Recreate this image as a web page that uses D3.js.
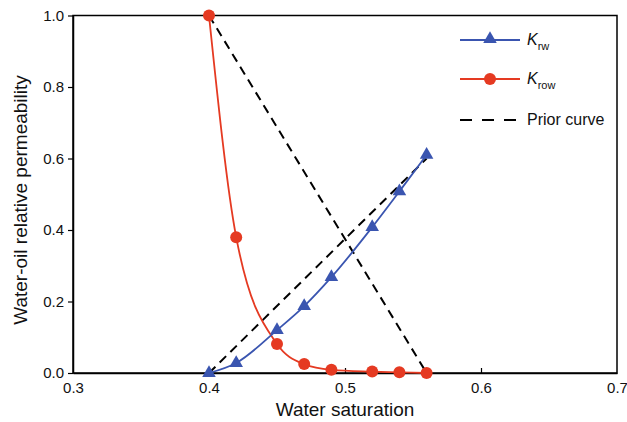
<!DOCTYPE html>
<html><head><meta charset="utf-8">
<script src="https://cdn.jsdelivr.net/npm/d3@7"></script>
<style>body{margin:0;background:#fff}svg{display:block;font-family:"Liberation Sans",Arial,sans-serif}</style>
</head><body><svg id="c" width="627" height="422"></svg>
<script>
const sw = [0.40, 0.42, 0.45, 0.47, 0.49, 0.52, 0.54, 0.56];
const krw = [0, 0.028, 0.12, 0.187, 0.268, 0.408, 0.508, 0.61];
const krow = [1.0, 0.38, 0.081, 0.025, 0.009, 0.004, 0.002, 0.0];
const priorKrwX = [0.40, 0.56], priorKrwY = [0, 0.6];
const priorKrowX = [0.40, 0.56], priorKrowY = [1.0, 0];
const xTicks = [0.3, 0.4, 0.5, 0.6, 0.7];
const yTicks = [0.0, 0.2, 0.4, 0.6, 0.8, 1.0];

const svg = d3.select("#c");
const L = 73, R = 617, T = 15.5, B = 373;
const x = d3.scaleLinear().domain([0.3, 0.7]).range([L, R]);
const y = d3.scaleLinear().domain([0, 1]).range([B, T]);
const blue = "#3a55b0", red = "#e53a22";

// frame
svg.append("rect").attr("x", L).attr("y", T).attr("width", R - L).attr("height", B - T)
  .attr("fill", "none").attr("stroke", "#000").attr("stroke-width", 1.5);

const xa = svg.append("g").attr("transform", `translate(0,${B})`)
  .call(d3.axisBottom(x).tickValues(xTicks).tickFormat(d3.format(".1f")).tickSizeInner(-5).tickSizeOuter(0).tickPadding(9));
const ya = svg.append("g").attr("transform", `translate(${L},0)`)
  .call(d3.axisLeft(y).tickValues(yTicks).tickFormat(d3.format(".1f")).tickSizeInner(5).tickSizeOuter(0).tickPadding(4));
[xa, ya].forEach(g => {
  g.select(".domain").attr("stroke", "#000").attr("stroke-width", 1.5);
  g.selectAll(".tick line").attr("stroke", "#000").attr("stroke-width", 1.2);
  g.selectAll(".tick text").attr("font-size", 15).attr("fill", "#111").attr("font-family", "Liberation Sans, Arial, sans-serif");
});
xa.selectAll(".tick").filter(d => d === 0.3 || d === 0.7).select("line").remove();

svg.append("text").attr("x", 345).attr("y", 416).attr("text-anchor", "middle")
  .attr("font-size", 19).attr("fill", "#111").text("Water saturation");
svg.append("text").attr("transform", `translate(27,200) rotate(-90)`).attr("text-anchor", "middle")
  .attr("font-size", 19).attr("fill", "#111").text("Water-oil relative permeability");

const dash = "9,6";
const line = d3.line().x(d => x(d[0])).y(d => y(d[1]));
svg.append("path").datum(priorKrwX.map((v, i) => [v, priorKrwY[i]])).attr("d", line)
  .attr("fill", "none").attr("stroke", "#000").attr("stroke-width", 2).attr("stroke-dasharray", dash);
svg.append("path").datum(priorKrowX.map((v, i) => [v, priorKrowY[i]])).attr("d", line)
  .attr("fill", "none").attr("stroke", "#000").attr("stroke-width", 2).attr("stroke-dasharray", dash);

const smooth = d3.line().x(d => x(d[0])).y(d => y(d[1])).curve(d3.curveMonotoneX);
svg.append("path").datum(sw.map((v, i) => [v, krow[i]])).attr("d", smooth)
  .attr("fill", "none").attr("stroke", red).attr("stroke-width", 1.8);
svg.append("path").datum(sw.map((v, i) => [v, krw[i]])).attr("d", smooth)
  .attr("fill", "none").attr("stroke", blue).attr("stroke-width", 1.8);

const tri = d3.symbol().type(d3.symbolTriangle).size(80);
svg.selectAll(".tri").data(sw.map((v, i) => [v, krw[i]])).join("path")
  .attr("transform", d => `translate(${x(d[0])},${y(d[1])})`).attr("d", tri).attr("fill", blue);
svg.selectAll(".cir").data(sw.map((v, i) => [v, krow[i]])).join("circle")
  .attr("cx", d => x(d[0])).attr("cy", d => y(d[1])).attr("r", 6).attr("fill", red);

// legend
const lg = svg.append("g");
const items = [{c: blue, m: "tri", t: "K", s: "rw", yy: 40}, {c: red, m: "cir", t: "K", s: "row", yy: 79}, {c: "#000", m: "dash", t: "Prior curve", yy: 120}];
items.forEach(it => {
  const l = lg.append("line").attr("x1", 460).attr("x2", 520).attr("y1", it.yy).attr("y2", it.yy)
    .attr("stroke", it.c).attr("stroke-width", it.m === "dash" ? 2 : 1.8);
  if (it.m === "dash") l.attr("stroke-dasharray", "12,10");
  if (it.m === "tri") lg.append("path").attr("d", tri).attr("transform", `translate(490,${it.yy - 1})`).attr("fill", it.c);
  if (it.m === "cir") lg.append("circle").attr("cx", 490).attr("cy", it.yy).attr("r", 6).attr("fill", it.c);
  const tx = lg.append("text").attr("x", 527).attr("y", it.yy + 5).attr("font-size", 16).attr("fill", "#111");
  if (it.s) {
    tx.append("tspan").attr("font-style", "italic").text(it.t);
    tx.append("tspan").attr("font-size", 11).attr("dy", 5).text(it.s);
  } else tx.text(it.t);
});
</script></body></html>
